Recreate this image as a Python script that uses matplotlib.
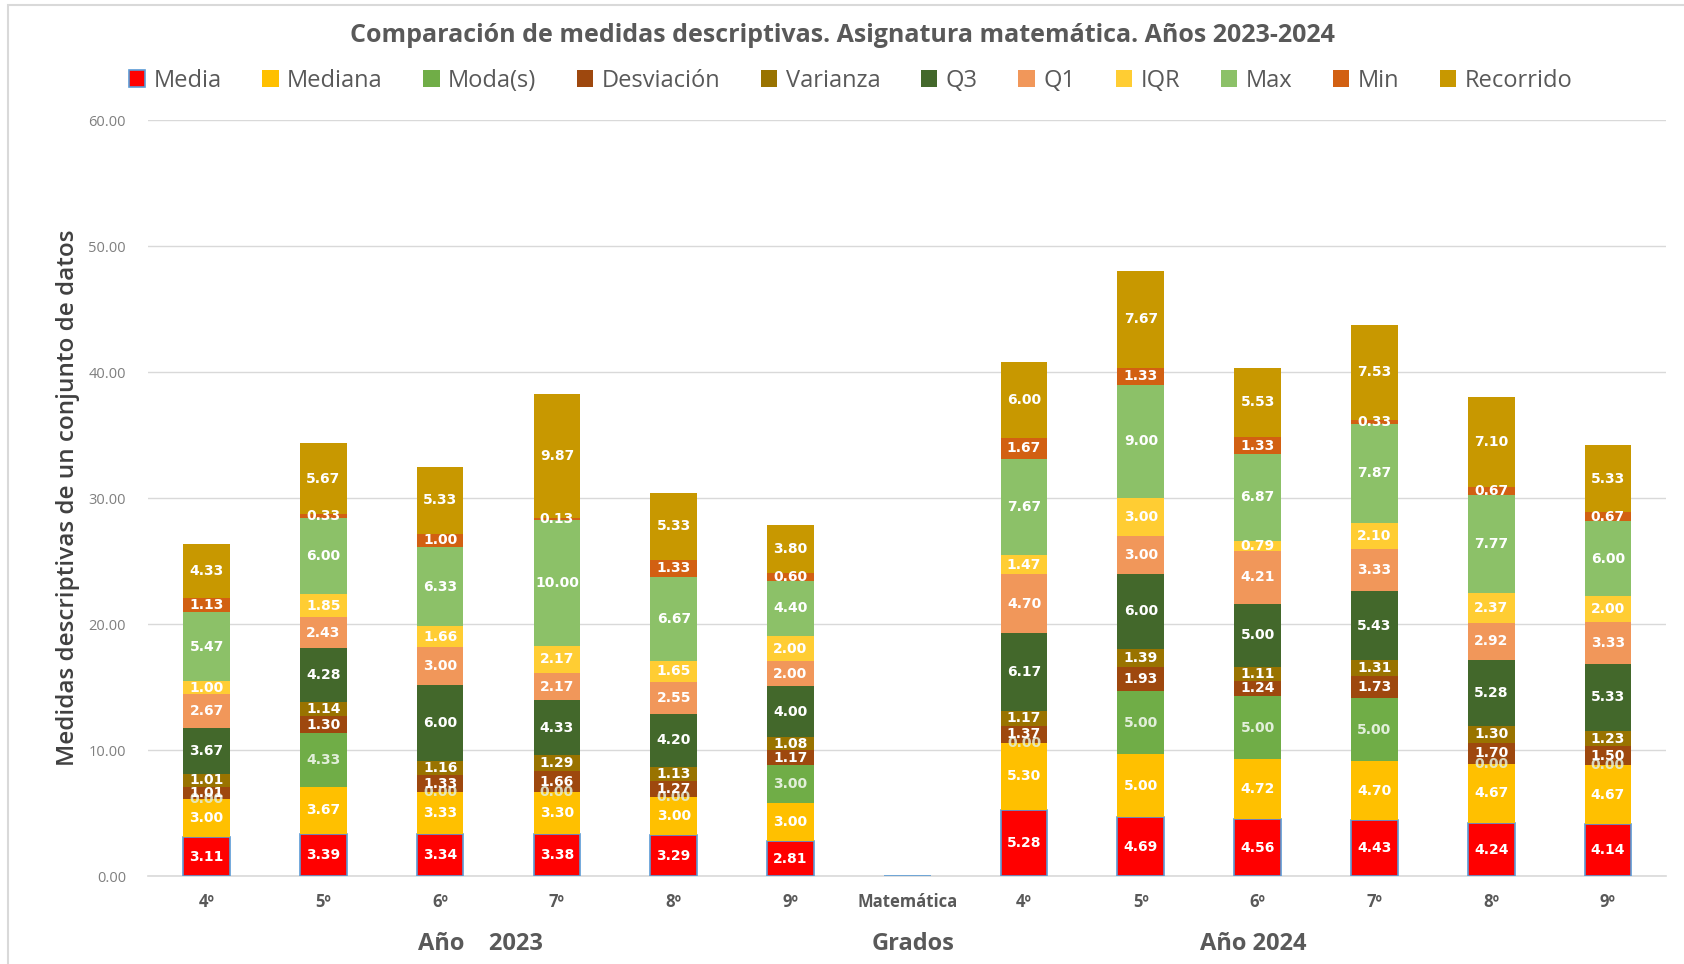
import matplotlib.pyplot as plt
import numpy as np
from matplotlib.patches import Rectangle

plt.rcParams['font.family'] = ['Open Sans', 'DejaVu Sans']

grados = ['4º', '5º', '6º', '7º', '8º', '9º', 'Matemática', '4º', '5º', '6º', '7º', '8º', '9º']

series = ['Media', 'Mediana', 'Moda(s)', 'Desviación', 'Varianza', 'Q3', 'Q1', 'IQR', 'Max', 'Min', 'Recorrido']

# one list per measure, 13 positions (index 6 = "Matemática", empty)
media      = [3.11, 3.39, 3.34, 3.38, 3.29, 2.81, 0, 5.28, 4.69, 4.56, 4.43, 4.24, 4.14]
mediana    = [3.00, 3.67, 3.33, 3.30, 3.00, 3.00, 0, 5.30, 5.00, 4.72, 4.70, 4.67, 4.67]
moda       = [0.00, 4.33, 0.00, 0.00, 0.00, 3.00, 0, 0.00, 5.00, 5.00, 5.00, 0.00, 0.00]
desviacion = [1.01, 1.30, 1.33, 1.66, 1.27, 1.17, 0, 1.37, 1.93, 1.24, 1.73, 1.70, 1.50]
varianza   = [1.01, 1.14, 1.16, 1.29, 1.13, 1.08, 0, 1.17, 1.39, 1.11, 1.31, 1.30, 1.23]
q3         = [3.67, 4.28, 6.00, 4.33, 4.20, 4.00, 0, 6.17, 6.00, 5.00, 5.43, 5.28, 5.33]
q1         = [2.67, 2.43, 3.00, 2.17, 2.55, 2.00, 0, 4.70, 3.00, 4.21, 3.33, 2.92, 3.33]
iqr        = [1.00, 1.85, 1.66, 2.17, 1.65, 2.00, 0, 1.47, 3.00, 0.79, 2.10, 2.37, 2.00]
maximo     = [5.47, 6.00, 6.33, 10.00, 6.67, 4.40, 0, 7.67, 9.00, 6.87, 7.87, 7.77, 6.00]
minimo     = [1.13, 0.33, 1.00, 0.13, 1.33, 0.60, 0, 1.67, 1.33, 1.33, 0.33, 0.67, 0.67]
recorrido  = [4.33, 5.67, 5.33, 9.87, 5.33, 3.80, 0, 6.00, 7.67, 5.53, 7.53, 7.10, 5.33]

valores = [media, mediana, moda, desviacion, varianza, q3, q1, iqr, maximo, minimo, recorrido]
colores = ['#FF0000', '#FFC000', '#70AD47', '#9E480E', '#997300', '#43682B',
           '#F1975A', '#FFCD33', '#8CC168', '#D26012', '#C89800']
col_label = ['white', 'white', '#E2EFDA', 'white', 'white', 'white',
             'white', 'white', 'white', 'white', 'white']

fig = plt.figure(figsize=(16.84, 9.64), dpi=100)
ax = fig.add_axes([0.088, 0.091, 0.9015, 0.7845])

x = np.arange(len(grados))
base = np.zeros(len(grados))
for nombre, vals, c, lc in zip(series, valores, colores, col_label):
    vals = np.array(vals)
    if nombre == 'Media':
        ax.bar(x, vals, 0.4, bottom=base, color=c, edgecolor='#5B9BD5',
               linewidth=1.2, label=nombre, zorder=3)
    else:
        ax.bar(x, vals, 0.4, bottom=base, color=c, label=nombre, zorder=3)
    for i, (b, v) in enumerate(zip(base, vals)):
        if grados[i] == 'Matemática':
            continue
        ax.text(x[i], b + v / 2, f'{v:.2f}', ha='center', va='center',
                color=lc, fontsize=10, fontweight='bold', family='DejaVu Sans',
                alpha=0.85 if v == 0 else 1, zorder=4)
    base = base + vals

ax.set_ylim(0, 60)
ax.set_xlim(-0.5, len(grados) - 0.5)
ax.set_yticks(np.arange(0, 61, 10))
ax.set_yticklabels([f'{t:.2f}' for t in np.arange(0, 61, 10)], fontsize=10.5, color='#7F7F7F')
ax.set_xticks(x)
ax.set_xticklabels(grados, fontsize=12, fontweight='bold', color='#595959')
ax.tick_params(length=0, pad=12)
ax.tick_params(axis='y', pad=16)
ax.grid(axis='y', color='#D9D9D9', linewidth=1, zorder=0)
for s in ['top', 'right', 'left']:
    ax.spines[s].set_visible(False)
ax.spines['bottom'].set_color('#D9D9D9')
ax.spines['bottom'].set_linewidth(1.2)

ax.set_ylabel('Medidas descriptivas de un conjunto de datos', fontsize=17.5,
              fontweight='semibold', color='#404040')
ax.yaxis.set_label_coords(-0.045, 0.5)

fig.text(0.5, 0.963, 'Comparación de medidas descriptivas. Asignatura matemática. Años 2023-2024',
         ha='center', va='center', fontsize=18, fontweight='bold', color='#595959')

fig.legend(loc='center', bbox_to_anchor=(0.505, 0.916), ncol=11, frameon=False,
           fontsize=17, handlelength=0.7, handleheight=0.7, handletextpad=0.35,
           columnspacing=1.72, labelcolor='#595959')

fig.text(0.285, 0.008, 'Año    2023', ha='center', va='bottom', fontsize=17,
         fontweight='bold', color='#595959')
fig.text(0.542, 0.008, 'Grados', ha='center', va='bottom', fontsize=17,
         fontweight='bold', color='#595959')
fig.text(0.744, 0.008, 'Año 2024', ha='center', va='bottom', fontsize=17,
         fontweight='bold', color='#595959')

# marco del gráfico
fig.patches.append(Rectangle((0.005, -0.05), 1.1, 1.045, transform=fig.transFigure,
                             fill=False, edgecolor='#D9D9D9', linewidth=1.5))

fig.savefig('out.png', dpi=100)
